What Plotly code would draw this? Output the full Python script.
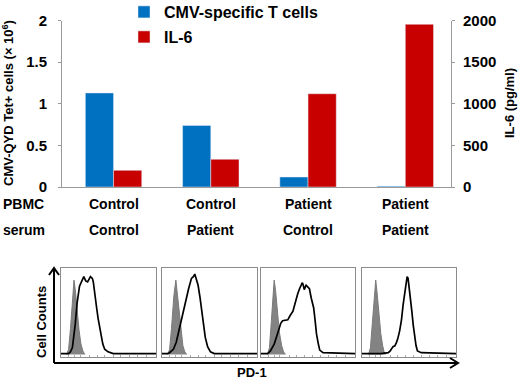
import plotly.graph_objects as go

# ---------------- data ----------------
pbmc = ["Control", "Control", "Patient", "Patient"]
serum = ["Control", "Patient", "Control", "Patient"]
cmv_tcells = [1.13, 0.74, 0.12, 0.01]          # x10^6
il6 = [200, 333, 1120, 1955]                    # pg/ml
left_ticks = [0, 0.5, 1, 1.5, 2]
left_ticktext = ["0", "0.5", "1", "1.5", "2"]
right_ticks = [0, 500, 1000, 1500, 2000]
right_ticktext = ["0", "500", "1000", "1500", "2000"]

# flow histograms (PD-1, relative scale 0-100)
iso_x = [[6, 8, 10, 12, 13.7, 15, 17, 19, 21, 23, 25],
         [6, 8, 10, 12.5, 14.6, 16, 18, 20, 22, 24, 26],
         [7, 9, 11, 12.5, 14, 15.5, 17.5, 19.5, 22, 24, 26],
         [7, 9, 11, 13, 14.6, 16, 18, 20, 22, 23.5, 25]]
iso_y = [[0, 6, 30, 65, 86, 75, 50, 28, 12, 4, 0],
         [0, 6, 30, 68, 86, 72, 48, 26, 10, 3, 0],
         [0, 8, 38, 70, 86, 74, 48, 26, 10, 3, 0],
         [0, 8, 36, 70, 86, 72, 46, 24, 10, 3, 0]]
pd1_x = [[0, 8, 10, 12, 15, 17, 19.5, 21, 24, 26, 28, 31, 33, 34, 36, 37.5, 39, 41, 43, 44, 46, 49.5, 55, 100],
         [0, 6, 8, 12, 15, 17, 20, 22, 25, 28, 31, 33, 34.5, 36, 38, 40, 42, 44, 45.5, 48, 51, 55, 100],
         [0, 7, 10, 14, 17, 19.6, 21, 23, 26, 28.5, 31, 34, 36, 37.5, 39, 41, 42.5, 44, 45, 46, 48, 50,
          51.5, 53.5, 55, 56, 57.5, 59, 61, 62.5, 66, 100],
         [0, 20, 28, 30, 33, 35, 36.7, 38, 40, 42, 43.8, 45, 46, 47, 48, 49, 50, 51.5, 53, 54.5, 56, 57.5,
          59, 63, 100]]
pd1_y = [[1, 1, 3, 8, 35, 60, 79, 83, 90, 85, 84, 90, 88, 84, 70, 54, 42, 31, 20, 12, 6, 3, 1, 1],
         [1, 1, 2, 6, 14, 24, 38, 50, 64, 76, 88, 90, 93, 88, 80, 66, 50, 33, 20, 9, 3, 1, 1],
         [1, 1, 4, 12, 22, 31, 36, 39, 40, 40, 45, 50, 58, 65, 70, 76, 80, 83, 80, 75, 80, 78,
          76, 65, 58, 54, 40, 24, 12, 5, 2, 1],
         [1, 1, 2, 4, 9, 10, 14, 18, 27, 40, 58, 68, 76, 84, 90, 88, 80, 66, 50, 34, 20, 10,
          4, 2, 1]]

# ---------------- layout helpers ----------------
W, H = 520, 380
def px(x):
    return x / W
def py(y):
    return 1 - y / H

FONT = "Arial, Liberation Sans, sans-serif"
BLUE = "#0070c0"
RED = "#c80000"
AX = "#9a9a9a"

idx = list(range(len(pbmc)))
fig = go.Figure()
fig.add_trace(go.Bar(x=idx, y=cmv_tcells, name="CMV-specific T cells", marker_color=BLUE,
                     width=0.29, offset=-0.29, xaxis="x", yaxis="y", legend="legend"))
fig.add_trace(go.Bar(x=idx, y=il6, name="IL-6", marker_color=RED,
                     width=0.29, offset=0, xaxis="x", yaxis="y2", legend="legend2"))

box_x = [(61, 156), (162, 257), (261, 355), (362, 456)]
box_y = (py(357), py(268))
layout_axes = {}
for i in range(4):
    n = i + 3
    xa, ya = f"x{n}", f"y{n}"
    fig.add_trace(go.Scatter(x=iso_x[i], y=iso_y[i], mode="lines", fill="tozeroy",
                             line=dict(color="#7a7a7a", width=1), fillcolor="#838383",
                             showlegend=False, xaxis=xa, yaxis=ya, hoverinfo="skip"))
    fig.add_trace(go.Scatter(x=pd1_x[i], y=pd1_y[i], mode="lines",
                             line=dict(color="black", width=1.7),
                             showlegend=False, xaxis=xa, yaxis=ya, hoverinfo="skip"))
    layout_axes[f"xaxis{n}"] = dict(domain=[px(box_x[i][0]), px(box_x[i][1])], range=[0, 100],
                                    anchor=ya, showline=True, mirror=True, linecolor="#8c8c8c",
                                    linewidth=1, showticklabels=False, showgrid=False,
                                    zeroline=False, ticks="inside", ticklen=2, tickcolor="#aaaaaa",
                                    tickvals=[8, 14, 20, 30, 38, 46, 55, 63, 72, 80, 90])
    layout_axes[f"yaxis{n}"] = dict(domain=list(box_y), range=[-3, 100], anchor=xa,
                                    showline=True, mirror=True, linecolor="#8c8c8c", linewidth=1,
                                    showticklabels=False, showgrid=False, zeroline=False)

tickfont = dict(family=FONT, size=15, color="black", weight="bold")
bold = lambda s: dict(family=FONT, size=s, color="black", weight="bold")

def label(text, x, y, size, angle=0, xanchor="center", xref="paper"):
    return dict(text=text, x=x, y=y, xref=xref, yref="paper", textangle=angle,
                xanchor=xanchor, yanchor="middle", showarrow=False, font=bold(size))

annotations = [
    label("CMV-QYD Tet+ cells (× 10<sup>6</sup>)", px(8), py(103), 13, -90),
    label("IL-6 (pg/ml)", px(509), py(103), 13, -90),
    label("PBMC", px(1), py(204), 14, xanchor="left"),
    label("serum", px(1), py(230), 14, xanchor="left"),
    label("Cell Counts", px(41), py(322), 13, -90),
    label("PD-1", px(252), py(372), 13),
]
for i in idx:
    annotations.append(label(pbmc[i], i, py(204), 14, xref="x"))
    annotations.append(label(serum[i], i, py(230), 14, xref="x"))

shapes = [
    # vertical arrow
    dict(type="line", xref="paper", yref="paper", x0=px(54), x1=px(54), y0=py(363), y1=py(268),
         line=dict(color="black", width=2)),
    dict(type="path", xref="paper", yref="paper",
         path=f"M{px(49)},{py(275)} L{px(54)},{py(268)} L{px(59)},{py(275)}",
         line=dict(color="black", width=2)),
    # horizontal arrow
    dict(type="line", xref="paper", yref="paper", x0=px(54), x1=px(458), y0=py(363), y1=py(363),
         line=dict(color="black", width=2)),
    dict(type="path", xref="paper", yref="paper",
         path=f"M{px(450)},{py(358)} L{px(458)},{py(363)} L{px(450)},{py(368)}",
         line=dict(color="black", width=2)),
]

fig.update_layout(
    width=W, height=H, margin=dict(l=0, r=0, t=0, b=0, autoexpand=False),
    paper_bgcolor="white", plot_bgcolor="white",
    xaxis=dict(domain=[px(62), px(451)], range=[-0.53, 3.47], showline=True, linecolor=AX,
               showticklabels=False, ticks="", showgrid=False, zeroline=False, anchor="y"),
    yaxis=dict(domain=[py(187), py(20.5)], range=[0, 2], tickvals=left_ticks, ticktext=left_ticktext,
               showline=True, linecolor=AX, ticks="outside", ticklen=3, tickcolor=AX,
               tickfont=tickfont, showgrid=False, zeroline=False, ticklabelstandoff=8, anchor="x"),
    yaxis2=dict(domain=[py(187), py(20.5)], range=[0, 2000], tickvals=right_ticks,
                ticktext=right_ticktext, overlaying="y", side="right", anchor="x",
                showline=True, linecolor=AX, ticks="outside", ticklen=3, tickcolor=AX,
                tickfont=tickfont, showgrid=False, zeroline=False, ticklabelstandoff=5),
    legend=dict(x=px(124), y=py(12), xanchor="left", yanchor="middle", bgcolor="rgba(0,0,0,0)",
                font=bold(16)),
    legend2=dict(x=px(124), y=py(37), xanchor="left", yanchor="middle", bgcolor="rgba(0,0,0,0)",
                 font=bold(16)),
    annotations=annotations, shapes=shapes, showlegend=True,
    **layout_axes,
)

fig.write_html("out.html", config={"displayModeBar": False},
               post_script="document.body.style.margin='0px';")
